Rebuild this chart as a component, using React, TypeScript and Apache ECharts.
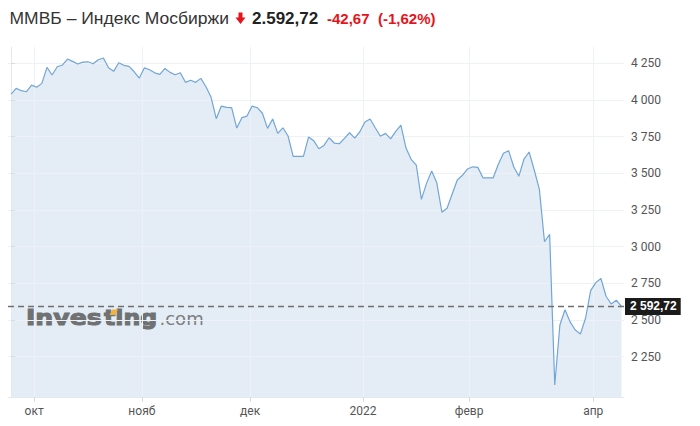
import React, { useEffect, useRef } from 'react';
import * as echarts from 'echarts';

// Daily closes (trading days)
const sepValues = [4041, 4080, 4064, 4057, 4102];
const octValues = [4087, 4114, 4223, 4171, 4227, 4239, 4280, 4264, 4246, 4259, 4261, 4248, 4275, 4287, 4220, 4196, 4255, 4237, 4230, 4193, 4150];
const novValues = [4220, 4207, 4186, 4175, 4216, 4189, 4173, 4186, 4121, 4135, 4121, 4148, 4091, 4019, 3873, 3959, 3950, 3948, 3809, 3880, 3891];
const decValues = [3959, 3948, 3910, 3807, 3871, 3773, 3811, 3755, 3616, 3616, 3616, 3748, 3723, 3668, 3691, 3743, 3707, 3702, 3739, 3777, 3741, 3784];
const janValues = [3850, 3871, 3811, 3753, 3773, 3736, 3787, 3830, 3673, 3596, 3557, 3323, 3432, 3516, 3436, 3235, 3262, 3359, 3455, 3487, 3530];
const febMarValues = [3545, 3541, 3470, 3470, 3470, 3562, 3637, 3655, 3545, 3480, 3598, 3646, 3523, 3391, 3034, 3085, 2057, 2466, 2570, 2487, 2432, 2405, 2512, 2700];
const aprValues = [2755, 2783, 2662, 2609, 2635.39, 2592.72];

const xTickPos = [4.5, 25.5, 46.6, 68.6, 89.3, 113.5];
const xTickLabels = ['окт', 'нояб', 'дек', '2022', 'февр', 'апр'];
const yTicks = [2250, 2500, 2750, 3000, 3250, 3500, 3750, 4000, 4250];

const lastValue = 2592.72;
const lastLabel = '2 592,72';
const titleText = 'ММВБ – Индекс Мосбиржи';
const priceText = '2.592,72';
const changeText = '-42,67';
const changePctText = '(-1,62%)';

const allValues = [...sepValues, ...octValues, ...novValues, ...decValues, ...janValues, ...febMarValues, ...aprValues];

const fmtY = (v: number) => String(Math.round(v)).replace(/\B(?=(\d{3})+(?!\d))/g, ' ');

export default function App() {
  const ref = useRef<HTMLDivElement>(null);
  useEffect(() => {
    if (!ref.current) return;
    const chart = echarts.init(ref.current, undefined, { renderer: 'svg' });
    const data = allValues.map((v, i) => [i, v]);
    const red = '#e5141b';
    const logoGray = '#6f7173';
    chart.setOption({
      animation: false,
      backgroundColor: '#ffffff',
      grid: { left: 8, right: 76, top: 47, bottom: 29, containLabel: false },
      xAxis: {
        type: 'value',
        min: -0.6,
        max: 119.5,
        z: 2,
        axisLine: { show: true, lineStyle: { color: '#e3e9f0', width: 1 } },
        axisTick: { show: true, length: 5, customValues: xTickPos, lineStyle: { color: '#dcdcdc' } },
        axisLabel: {
          customValues: xTickPos,
          margin: 8,
          color: '#555',
          fontSize: 12,
          fontFamily: 'Roboto, Arial, sans-serif',
          formatter: (v: number) => {
            let best = 0;
            xTickPos.forEach((p, i) => { if (Math.abs(p - v) < Math.abs(xTickPos[best] - v)) best = i; });
            return xTickLabels[best];
          },
        },
        splitLine: { show: true, lineStyle: { color: '#eef1f5', width: 1 } },
      },
      yAxis: {
        type: 'value',
        position: 'right',
        min: 1975,
        max: 4362,
        z: 2,
        axisLine: { show: true, lineStyle: { color: '#e3e9f0', width: 1 } },
        axisTick: { show: true, length: 4, customValues: yTicks, lineStyle: { color: '#dcdcdc' } },
        axisLabel: {
          customValues: yTicks,
          margin: 7,
          color: '#555',
          fontSize: 12,
          fontFamily: 'Roboto, Arial, sans-serif',
          formatter: (v: number) => fmtY(v),
        },
        splitLine: { show: true, lineStyle: { color: '#eef1f5', width: 1 } },
      },
      series: [
        {
          type: 'line',
          z: 1,
          data,
          symbol: 'none',
          silent: true,
          lineStyle: { width: 0, opacity: 0 },
          areaStyle: { color: '#e4edf5', opacity: 1 },
        },
        {
          type: 'line',
          z: 3,
          data,
          symbol: 'none',
          silent: true,
          lineStyle: { width: 1.2, color: '#72a6d5' },
          markLine: {
            silent: true,
            symbol: 'none',
            lineStyle: { type: [6, 4], color: '#707070', width: 1.3 },
            label: {
              show: true,
              position: 'end',
              distance: 1,
              formatter: lastLabel,
              color: '#ffffff',
              backgroundColor: '#1b1b1b',
              padding: [3, 4, 2, 5],
              fontSize: 12,
              fontWeight: 'bold',
              fontFamily: 'Arial, sans-serif',
            },
            data: [{ yAxis: lastValue }],
          },
        },
      ],
      graphic: [
        { type: 'text', x: 9.5, y: 18.5, scaleX: 1.06, style: { text: titleText, fontSize: 16.5, fontFamily: 'Arial, "Liberation Sans", sans-serif', fill: '#333', verticalAlign: 'middle' } },
        { type: 'polygon', shape: { points: [[238.5, 12.5], [242.5, 12.5], [242.5, 17.5], [245.5, 17.5], [240.5, 24], [235.5, 17.5], [238.5, 17.5]] }, style: { fill: red } },
        { type: 'text', x: 252, y: 18.5, style: { text: priceText, fontSize: 17, fontWeight: 'bold', fontFamily: 'Arial, "Liberation Sans", sans-serif', fill: '#222', verticalAlign: 'middle' } },
        { type: 'text', x: 327, y: 18.8, style: { text: changeText, fontSize: 15, fontWeight: 'bold', fontFamily: 'Arial, "Liberation Sans", sans-serif', fill: red, verticalAlign: 'middle' } },
        { type: 'text', x: 378, y: 18.8, style: { text: changePctText, fontSize: 15, fontWeight: 'bold', fontFamily: 'Arial, "Liberation Sans", sans-serif', fill: red, verticalAlign: 'middle' } },
        // Investing.com watermark
        { type: 'text', x: 26, y: 317.7, scaleX: 1.2, z: 2, style: { text: 'Inves', fontSize: 21, fontWeight: 'bold', fontFamily: '"DejaVu Sans", sans-serif', fill: logoGray, stroke: logoGray, lineWidth: 1, verticalAlign: 'middle' } },
        { type: 'text', x: 104, y: 317.7, scaleX: 1.13, z: 2, style: { text: 'ting', fontSize: 21, fontWeight: 'bold', fontFamily: '"DejaVu Sans", sans-serif', fill: logoGray, stroke: logoGray, lineWidth: 1, verticalAlign: 'middle' } },
        { type: 'text', x: 159.5, y: 318.8, z: 2, style: { text: '.com', fontSize: 18, fontFamily: '"DejaVu Sans", sans-serif', fill: '#7c7e80', verticalAlign: 'middle' } },
        { type: 'polygon', z: 3, shape: { points: [[109.5, 315], [112.5, 309.5], [118, 309.5], [115, 315]] }, style: { fill: '#f4b23a' } },
      ],
    });
    return () => chart.dispose();
  }, []);
  return <div ref={ref} style={{ position: 'fixed', left: 0, top: 0, width: 700, height: 426 }} />;
}
